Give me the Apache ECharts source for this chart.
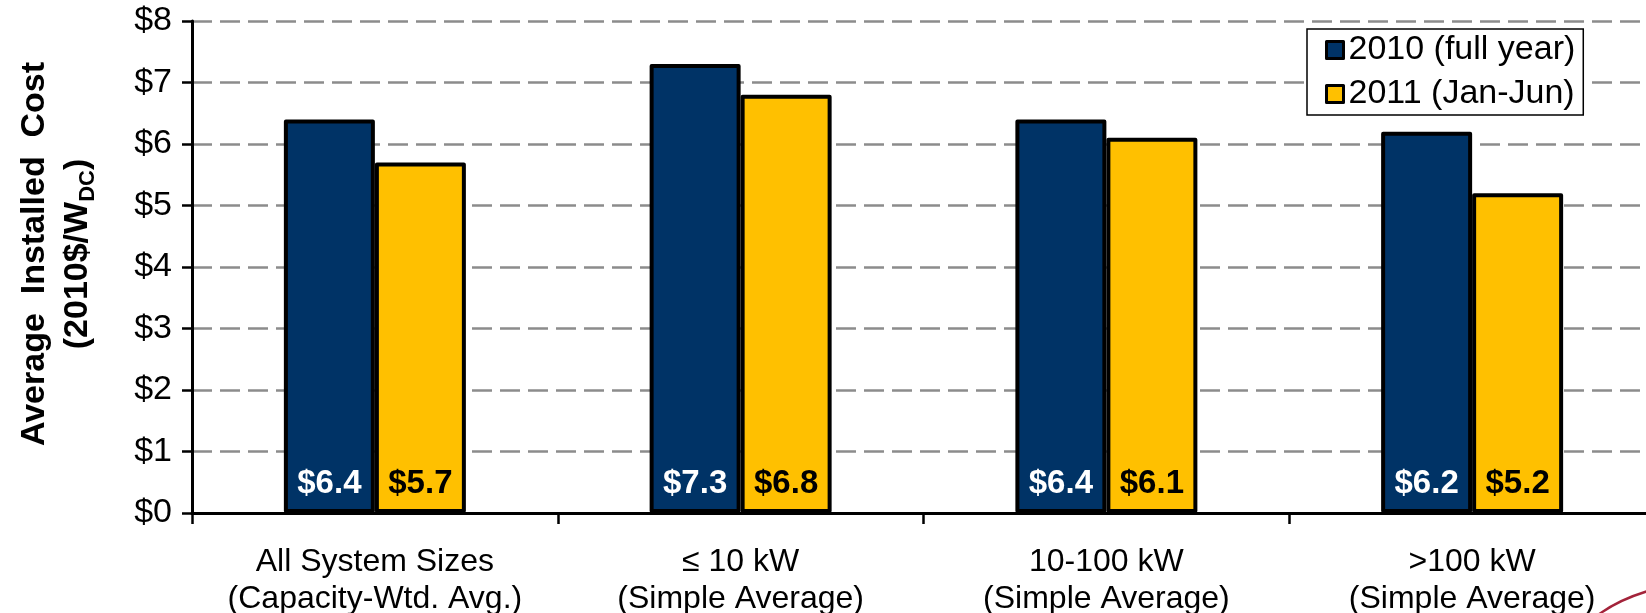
<!DOCTYPE html>
<html>
<head>
<meta charset="utf-8">
<script src="https://cdn.jsdelivr.net/npm/echarts@6/dist/echarts.min.js"></script>
<style>
  html, body { margin: 0; padding: 0; background: #ffffff; }
  #chart { width: 1646px; height: 613px; }
</style>
</head>
<body>
<div id="chart"></div>
<script>
// Average installed cost by system size, 2010 vs first half of 2011
const categories = [
  'All System Sizes\n(Capacity-Wtd. Avg.)',
  '\u2264 10 kW\n(Simple Average)',
  '10-100 kW\n(Simple Average)',
  '>100 kW\n(Simple Average)'
];
const seriesNames = ['2010 (full year)', '2011 (Jan-Jun)'];
const cost2010 = [6.4, 7.3, 6.4, 6.2];
const cost2011 = [5.7, 6.8, 6.1, 5.2];
const yMin = 0, yMax = 8, yStep = 1;

const FONT = '"Liberation Sans", Arial, sans-serif';
const BLUE = '#003366';
const GOLD = '#FFC000';

const chart = echarts.init(document.getElementById('chart'), null, { renderer: 'canvas' });

function barLabel(color) {
  return {
    show: true,
    position: 'insideBottom',
    distance: 13,
    fontFamily: FONT,
    fontWeight: 'bold',
    fontSize: 33,
    color: color,
    formatter: p => '$' + p.value.toFixed(1)
  };
}

chart.setOption({
  backgroundColor: '#ffffff',
  animation: false,
  grid: { left: 192, right: -9, top: 21, bottom: 100, containLabel: false, outerBoundsMode: 'none' },
  legend: {
    left: 1307,
    top: 29,
    orient: 'vertical',
    padding: [4, 8, 4, 18],
    itemGap: 10,
    itemWidth: 17,
    itemHeight: 17,
    icon: 'rect',
    borderColor: '#000000',
    borderWidth: 1.5,
    backgroundColor: '#ffffff',
    itemStyle: { borderColor: '#000000', borderWidth: 3 },
    textStyle: { fontFamily: FONT, fontSize: 34, color: '#000000', lineHeight: 34 },
    data: seriesNames
  },
  xAxis: {
    type: 'category',
    data: categories,
    axisLine: { lineStyle: { color: '#000000', width: 3 } },
    axisTick: { show: true, length: 11, lineStyle: { color: '#000000', width: 2.5 } },
    axisLabel: {
      interval: 0,
      margin: 31,
      fontFamily: FONT,
      fontSize: 32,
      lineHeight: 37,
      color: '#000000'
    },
    splitLine: { show: false }
  },
  yAxis: {
    type: 'value',
    min: yMin,
    max: yMax,
    interval: yStep,
    axisLine: { show: true, lineStyle: { color: '#000000', width: 3 } },
    axisTick: { show: true, length: 10, lineStyle: { color: '#000000', width: 2.5 } },
    axisLabel: {
      margin: 20,
      fontFamily: FONT,
      fontSize: 34,
      color: '#000000',
      formatter: v => '$' + v
    },
    splitLine: {
      show: true,
      lineStyle: { color: '#8c8c8c', width: 2.5, type: [20, 8] }
    }
  },
  series: [
    {
      name: seriesNames[0],
      type: 'bar',
      data: cost2010,
      barGap: '0%',
      barWidth: 91,
      itemStyle: { color: BLUE, borderColor: '#000000', borderWidth: 4, borderJoin: 'round' },
      label: barLabel('#ffffff'),
      z: 3
    },
    {
      name: seriesNames[1],
      type: 'bar',
      data: cost2011,
      barGap: '0%',
      barWidth: 91,
      itemStyle: { color: GOLD, borderColor: '#000000', borderWidth: 4, borderJoin: 'round' },
      label: barLabel('#000000'),
      z: 3
    }
  ],
  graphic: [
    {
      type: 'text',
      x: 56,
      y: 254,
      rotation: Math.PI / 2,
      style: {
        text: '{t|Average  Installed  Cost}\n{t|(2010$/W}{s|DC}{t|)}',
        align: 'center',
        verticalAlign: 'middle',
        fill: '#000000',
        rich: {
          t: { fontFamily: FONT, fontWeight: 'bold', fontSize: 34, lineHeight: 43, fill: '#000000' },
          s: { fontFamily: FONT, fontWeight: 'bold', fontSize: 22, lineHeight: 43, fill: '#000000', verticalAlign: 'bottom', padding: [14, 0, 0, 0] }
        }
      }
    },
    {
      type: 'bezierCurve',
      shape: { x1: 1598, y1: 615, cpx1: 1618, cpy1: 600, x2: 1648, y2: 591 },
      style: { stroke: '#a3233a', lineWidth: 2.5, fill: null }
    }
  ]
});
</script>
</body>
</html>
